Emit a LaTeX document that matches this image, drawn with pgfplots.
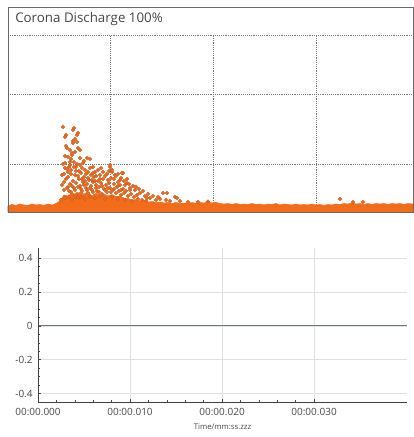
\documentclass[border=0pt]{standalone}
\usepackage{pgfplots}
\pgfplotsset{compat=1.18}
\usepackage{fontspec}
\setmainfont{Open Sans}
\definecolor{corange}{RGB}{242,108,26}
\definecolor{cdot}{RGB}{205,95,35}
\definecolor{cgrid}{RGB}{120,120,120}
\definecolor{cbox}{RGB}{105,105,105}
\definecolor{czero}{RGB}{105,125,105}
\definecolor{clabel}{RGB}{70,70,70}
\begin{document}
\begin{tikzpicture}[x=0.75pt,y=0.75pt]
\useasboundingbox (0,0) rectangle (414,437);
% ---------- top panel ----------
\begin{axis}[
  at={(6pt,168.75pt)}, anchor=south west,
  width=303.75pt, height=132.75pt, scale only axis,
  xmin=0, xmax=405, ymin=0, ymax=177,
  axis line style={draw=none},
  xtick={102,205,308}, ytick={48,118,177},
  xticklabels={}, yticklabels={},
  major tick length=0pt,
  grid=major,
  major grid style={cgrid, densely dotted, line width=0.5pt},
  clip=false,
]
\addplot[fill=corange, draw=corange, line width=0.4pt] coordinates {
(0,6) (4,7.5) (8,6.5) (12,8) (16,7) (20,6.5) (24,8) (28,7) (32,7.5) (36,6.5)
(40,8) (44,7) (48,8.5) (52,11) (56,17) (60,16) (64,19) (68,17.5) (72,20) (76,18)
(80,19.5) (84,16) (88,19) (92,17) (96,18) (100,16) (104,17.5) (108,15.5) (112,15.5) (116,14)
(120,13.5) (124,12) (128,12.5) (132,11) (136,11.5) (140,10) (144,10.5) (148,9.5) (152,10) (156,9)
(160,9.5) (164,8.5) (168,9.5) (172,8.5) (176,9) (180,8.5) (184,9.5) (188,8.5) (192,9.5) (196,9)
(200,10) (204,9) (208,9.5) (212,8.5) (216,8) (220,8.5) (224,7.5) (228,8.5) (232,7.5) (236,8)
(240,7.5) (244,8.5) (248,7.5) (252,8) (256,7) (260,8) (264,7.5) (268,8.5) (272,7) (276,8)
(280,7.5) (284,7) (288,8) (292,7) (296,7.5) (300,7) (304,8) (308,7) (312,7.5) (316,6.5)
(320,7.5) (324,7) (328,8) (332,7.5) (336,8.5) (340,8) (344,9) (348,8) (352,8.5) (356,7.5)
(360,8.5) (364,7.5) (368,8.5) (372,8) (376,8.5) (380,7.5) (384,8.5) (388,8) (392,8.5) (396,7.5)
(400,8.5) (404,8) (405,8)
} \closedcycle;
\addplot[only marks, mark=*, mark size=1.3pt, mark options={fill=corange, draw=cdot, line width=0.3pt}] coordinates {
(55,85) (66,84) (65,82) (70,79) (69,77) (58,77) (57,75) (65,71) (67,73) (65,69) (69,70)
(58,66) (59,64) (62,62) (72,62) (67,60) (70,64) (64,57) (64,59) (72,54) (79,54) (82,53)
(55,48) (62,50) (75,49) (57,49) (72,47) (85,45) (102,45) (77,42) (82,44) (104,40) (115,39)
(54,37) (60,40) (67,37) (87,40) (92,37) (102,47) (104,42) (107,37) (114,39)
(100,32) (110,30) (112,32) (117,27) (119,29) (122,24) (122,22) (127,22) (132,19) (129,17)
(137,16) (139,14) (142,14) (155,19) (159,19) (167,15) (169,14) (54,27) (332,13)
(56,30) (58,33) (60,25) (62,28) (63,20) (65,31) (66,24) (68,29) (69,18) (71,33) (72,26)
(74,21) (75,30) (76,35) (78,24) (79,28) (80,19) (81,32) (83,26) (84,22) (85,30) (86,35)
(88,27) (89,21) (90,31) (91,25) (93,29) (94,18) (95,33) (96,23) (98,27) (99,20) (101,29)
(102,24) (103,34) (105,22) (106,28) (108,19) (109,25) (111,21) (112,27) (113,17) (115,23)
(116,19) (118,21) (120,16) (123,18) (126,15) (130,13) (134,12) (138,11)
(57,44) (61,45) (63,42) (68,45) (71,41) (74,44) (76,51) (78,38) (80,40) (83,37) (85,39)
(88,36) (90,42) (93,44) (95,40) (97,36) (99,38) (101,41) (106,33) (108,36) (110,38)
(113,34) (116,31) (119,33) (121,28) (125,26) (128,25) (131,23) (135,21) (140,18) (145,16)
(150,15) (148,12) (152,13) (158,12) (162,11) (172,11) (180,10) (190,10) (200,10.5)
(345,10) (355,10)
(53,12) (57,14) (61,15) (64,13) (67,16) (70,14) (73,15) (77,13) (82,15) (87,14) (92,16)
(97,13) (104,15) (110,13) (117,12) (124,11)
(56,22) (59,24) (61,21) (64,26) (67,22) (70,25) (73,23) (76,27) (79,22) (82,24) (85,20)
(88,24) (91,20) (94,26) (97,22) (100,24) (103,20) (106,23) (110,26) (113,22)
(57,56) (60,55) (63,53) (66,50) (69,48) (66,45) (60,35) (63,38) (70,36) (73,39)
(56,38) (59,43) (62,47) (68,41) (74,33) (77,31) (80,34) (84,32) (87,31) (92,33)
};
\end{axis}
\draw[cbox, line width=0.6pt] (8,225) rectangle (413.5,430);
\node[anchor=west, text=clabel, font=\fontsize{10}{11}\selectfont, inner sep=0pt] at (15,418) {Corona Discharge 100\%};
% ---------- bottom panel ----------
\begin{axis}[
  at={(28.5pt,26.25pt)}, anchor=south west,
  width=276.75pt, height=115.5pt, scale only axis,
  xmin=0, xmax=0.0401, ymin=-0.45, ymax=0.46,
  axis line style={draw=none},
  xtick pos=bottom, ytick pos=left,
  xtick={0,0.01,0.02,0.03},
  xticklabels={00:00.000,00:00.010,00:00.020,00:00.030},
  ytick={-0.4,-0.2,0,0.2,0.4},
  yticklabels={-0.4,-0.2,0,0.2,0.4},
  scaled x ticks=false,
  minor x tick num=4, minor y tick num=3,
  tick align=inside,
  major tick length=2.5pt, minor tick length=1.5pt,
  tick style={black!70, line width=0.4pt},
  grid=major,
  major grid style={black!12, line width=0.4pt},
  ticklabel style={text=clabel, font=\fontsize{7.5}{8.5}\selectfont},
  xticklabel style={yshift=-1.5pt},
  yticklabel style={xshift=-0.5pt},
  xlabel={Time/mm:ss.zzz},
  xlabel style={text=clabel, font=\fontsize{5.8}{6.5}\selectfont, yshift=1pt},
  /pgf/number format/assume math mode=true,
  clip=false,
]
\addplot[czero, line width=0.8pt] coordinates {(0,0) (0.0401,0)};
\draw[black!75, line width=0.6pt] (rel axis cs:0,1) -- (rel axis cs:0,0) -- (rel axis cs:1,0);
\end{axis}
\end{tikzpicture}
\end{document}
